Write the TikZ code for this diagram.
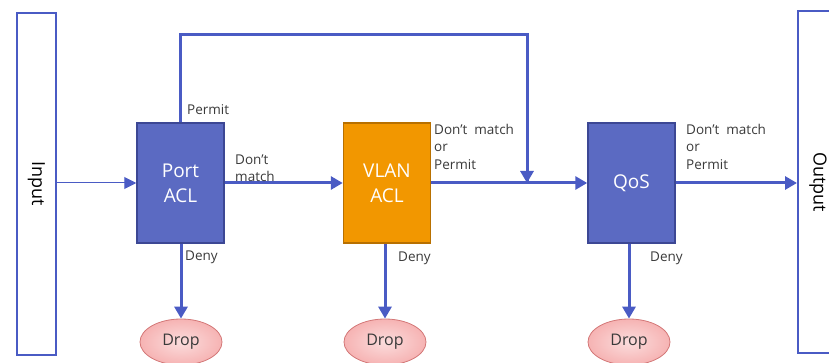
\documentclass[tikz,border=0pt]{standalone}
\usepackage{fontspec}
\setmainfont{Open Sans}
\usetikzlibrary{arrows.meta,shapes.geometric,calc}
\definecolor{flow}{HTML}{4A5BC4}
\definecolor{bluefill}{HTML}{5B6AC2}
\definecolor{blueedge}{HTML}{3C4794}
\definecolor{orangefill}{HTML}{F29700}
\definecolor{orangeedge}{HTML}{B87000}
\definecolor{dropfill}{HTML}{F6B3B3}
\definecolor{dropedge}{HTML}{D37777}
\definecolor{labeltext}{HTML}{3A3A3A}
\begin{document}
\begin{tikzpicture}[x=1pt,y=-1pt,
  endbox/.style={draw=flow,line width=2pt,fill=white,minimum width=39pt,minimum height=342pt,inner sep=0pt},
  stage/.style={line width=1.5pt,minimum width=87pt,minimum height=120pt,inner sep=0pt,text=white,font=\fontsize{19}{25}\selectfont,align=center},
  drop/.style={ellipse,draw=dropedge,line width=0.8pt,inner color=dropfill!45,outer color=dropfill,minimum width=82pt,minimum height=46pt,inner sep=0pt,font=\fontsize{16}{18}\selectfont,text=labeltext},
  flowline/.style={draw=flow,line width=3pt,-{Triangle[length=12pt,width=13pt]}},
  lbl/.style={font=\fontsize{13.5}{17.5}\selectfont,text=labeltext,inner sep=0pt,align=left}]
\useasboundingbox (0,0) rectangle (829,363);
% input and output ports
\node[endbox] (in) at (36.5,184) {};
\node[rotate=-90,font=\fontsize{18}{20}\selectfont] at (in.center) {Input};
\node[endbox,minimum width=40pt] (out) at (818,182) {};
\node[rotate=-90,font=\fontsize{18}{20}\selectfont] at (out.center) {Output};
% ACL stages
\node[stage,fill=bluefill,draw=blueedge] (pacl) at (180.5,183) {Port\\ACL};
\node[stage,fill=orangefill,draw=orangeedge] (vacl) at (387,183) {VLAN\\ACL};
\node[stage,fill=bluefill,draw=blueedge] (qos) at (631.5,183) {QoS};
% drop sinks
\node[drop] (d1) at (181,342) {Drop};
\node[drop] (d2) at (385,342) {Drop};
\node[drop] (d3) at (629,342) {Drop};
\coordinate (join) at (527,183);
\coordinate (pup) at (180,35);
\coordinate (jup) at (527,35);
% connectors
\draw[draw=flow,line width=1pt,-{Triangle[length=12pt,width=12pt]}] (in.east |- pacl) -- (pacl.west);
\draw[flowline] (pacl.east) -- (vacl.west);
\draw[draw=flow,line width=3pt] (vacl.east) -- (join);
\draw[flowline] (join) -- (qos.west);
\draw[flowline] (qos.east) -- (out.west |- qos);
\draw[draw=flow,line width=3pt,line join=miter] (pacl.north -| pup) -- (pup) -- (jup) -- ($(join)+(0,-2)$);
\draw[flowline] ($(jup)+(0,10)$) -- (join);
\draw[flowline] (pacl.south -| d1) -- (d1.north);
\draw[flowline] (vacl.south -| d2) -- (d2.north);
\draw[flowline] (qos.south -| d3) -- (d3.north);
% decision labels
\node[lbl,anchor=west] (lp) at (187,110) {Permit};
\node[lbl,anchor=south west] (ldm) at (235,182) {Don’t\\match};
\node[lbl,anchor=north west] (lv) at (434,124) {Don’t~~match\\or\\Permit};
\node[lbl,anchor=north west] (lq) at (686,124) {Don’t~~match\\or\\Permit};
\node[lbl,anchor=west] (ld1) at (185,257) {Deny};
\node[lbl,anchor=west] (ld2) at (398,258) {Deny};
\node[lbl,anchor=west] (ld3) at (650,258) {Deny};
\end{tikzpicture}
\end{document}
